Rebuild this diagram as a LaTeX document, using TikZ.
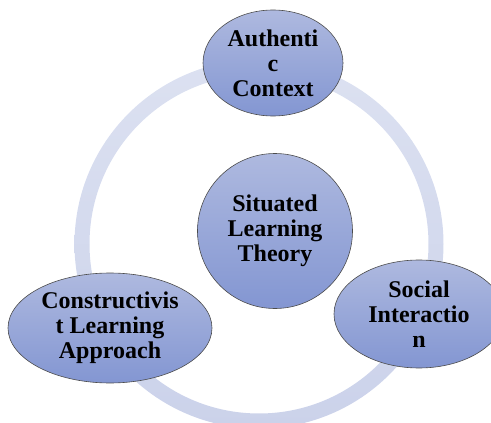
\documentclass[tikz,border=0pt]{standalone}
\usepackage{fontspec}
\setmainfont{Liberation Serif}
\usetikzlibrary{shapes.geometric}
\begin{document}
\begin{tikzpicture}[x=1pt,y=-1pt,
  bubble/.style={draw=black!70,line width=0.6pt,top color=bubbletop,bottom color=bubblebottom,
    inner sep=0pt,align=center,font=\fontsize{24}{25}\selectfont\bfseries},
  oval/.style={bubble,ellipse}]
 \definecolor{ringtop}{HTML}{DCE1F1}
 \definecolor{ringbottom}{HTML}{CBD2EA}
 \definecolor{bubbletop}{HTML}{AEB9DF}
 \definecolor{bubblebottom}{HTML}{8396D2}
 \useasboundingbox (0,0) rectangle (491,423);
 \shade [top color=ringtop,bottom color=ringbottom,even odd rule] (259,244) circle (184.5) (259,244) circle (169.5);
 \node [bubble,circle,minimum size=155pt] (theory) at (275,231) {Situated\\Learning\\Theory};
 \node [oval,minimum width=140pt,minimum height=106pt] (context) at (273,63) {Authenti\\c\\Context};
 \node [oval,minimum width=170pt,minimum height=108pt] (social) at (419,314) {Social\\Interactio\\n};
 \node [oval,minimum width=204pt,minimum height=110pt] (constructivist) at (110,328) {Constructivis\\t Learning\\Approach};
\end{tikzpicture}
\end{document}
